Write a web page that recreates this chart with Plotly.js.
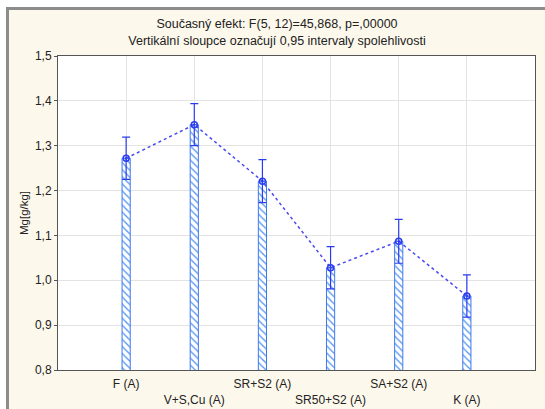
<!DOCTYPE html>
<html>
<head>
<meta charset="utf-8">
<script src="https://cdn.plot.ly/plotly-3.0.1.min.js"></script>
<style>
  html, body { margin: 0; padding: 0; background: #ffffff; width: 545px; height: 409px; overflow: hidden; }
  #chart { position: absolute; left: 6px; top: 7px; width: 536px; height: 399px;
           border-left: 3px solid #8c8c8c; border-top: 3px solid #8c8c8c; background: #fdf8ec; }
</style>
</head>
<body>
<div id="chart"></div>
<script>
// Data
const categories = ["F (A)", "V+S,Cu (A)", "SR+S2 (A)", "SR50+S2 (A)", "SA+S2 (A)", "K (A)"];
const means = [1.272, 1.347, 1.221, 1.028, 1.087, 0.965];
const ciHalf = [0.047, 0.047, 0.048, 0.047, 0.049, 0.047];
// Alternating label rows as in the reference
const tickLabels = categories.map((c, i) => (i % 2 === 1 ? "<br>" + c : c));

const blue = "#2b3cf0";
const font = "Liberation Sans, Arial, sans-serif";

const bars = {
  type: "bar",
  x: categories,
  y: means,
  width: 0.12,
  marker: {
    color: "#ffffff",
    line: { color: "#3f78ee", width: 1 },
    pattern: { shape: "\\", fgcolor: "#5b9af2", bgcolor: "#ffffff", size: 5, solidity: 0.28 }
  },
  hoverinfo: "skip",
  showlegend: false
};

const meansTrace = {
  type: "scatter",
  mode: "lines+markers",
  x: categories,
  y: means,
  line: { color: "#4a4af5", width: 1.5, dash: "dot" },
  marker: { symbol: "circle-open-dot", size: 6, color: blue, line: { color: blue, width: 1.5 } },
  error_y: { type: "data", array: ciHalf, visible: true, color: blue, thickness: 1.2, width: 4 },
  showlegend: false
};

const layout = {
  width: 536,
  height: 399,
  margin: { l: 49, r: 10, t: 46, b: 39 },
  paper_bgcolor: "#fdf8ec",
  plot_bgcolor: "#ffffff",
  separators: ",.",
  font: { family: font, size: 12, color: "#222222" },
  title: {
    text: "Současný efekt: F(5, 12)=45,868, p=,00000<br>Vertikální sloupce označují 0,95 intervaly spolehlivosti",
    font: { family: font, size: 12.5, color: "#222222" },
    x: 0.5, xref: "container", xanchor: "center",
    y: 0.954, yref: "container", yanchor: "top"
  },
  xaxis: {
    type: "category",
    categoryorder: "array",
    categoryarray: categories,
    range: [-1, 6],
    tickvals: categories,
    ticktext: tickLabels,
    ticklabelstandoff: 3,
    showgrid: true,
    gridcolor: "#e3e3e3",
    gridwidth: 1,
    showline: true,
    linecolor: "#555555",
    linewidth: 1,
    mirror: true,
    ticks: "",
    tickfont: { family: font, size: 12, color: "#222222" },
    zeroline: false
  },
  yaxis: {
    range: [0.8, 1.5],
    dtick: 0.1,
    tick0: 0.8,
    tickformat: ".1f",
    showgrid: true,
    gridcolor: "#e3e3e3",
    gridwidth: 1,
    showline: true,
    linecolor: "#555555",
    linewidth: 1,
    mirror: true,
    ticks: "outside",
    ticklen: 3,
    tickcolor: "#555555",
    tickfont: { family: font, size: 12, color: "#222222" },
    zeroline: false,
    title: { text: "Mg[g/kg]", font: { family: font, size: 11.5, color: "#222222" }, standoff: 3 }
  },
  bargap: 0
};

Plotly.newPlot("chart", [bars, meansTrace], layout, { displayModeBar: false, staticPlot: true });
</script>
</body>
</html>
